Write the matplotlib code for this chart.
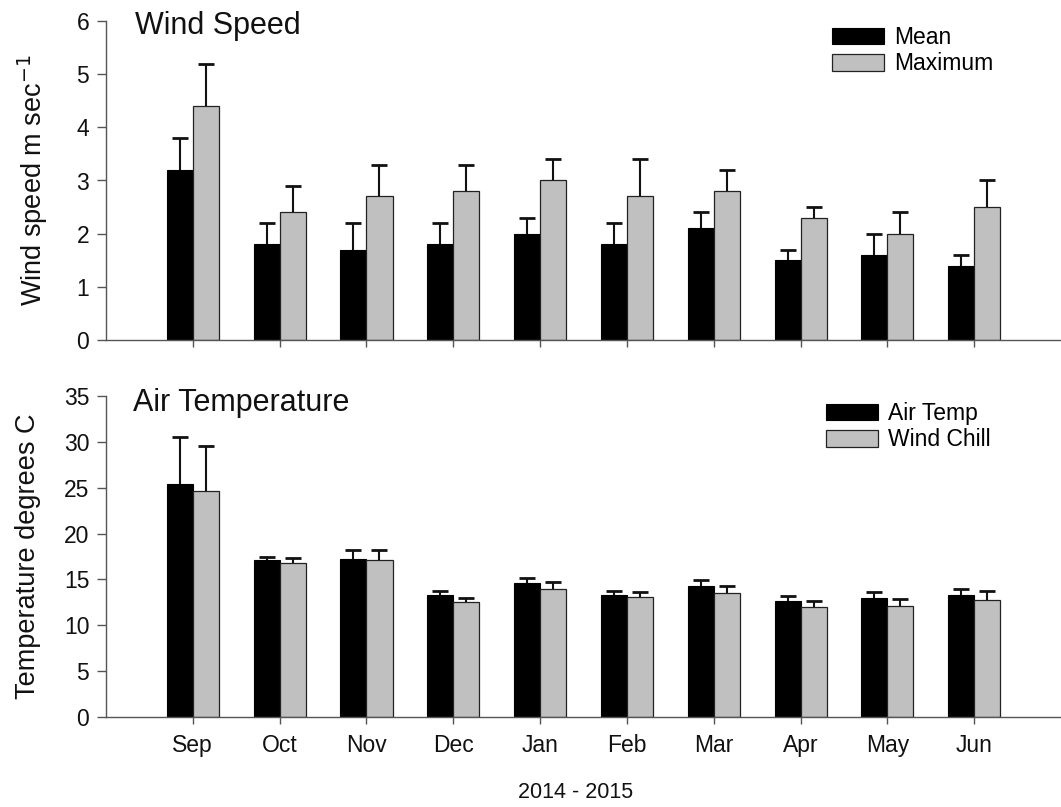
import matplotlib
matplotlib.use("Agg")
import matplotlib.pyplot as plt
import numpy as np

plt.rcParams['font.family'] = ['Liberation Sans', 'DejaVu Sans']

months = ["Sep", "Oct", "Nov", "Dec", "Jan", "Feb", "Mar", "Apr", "May", "Jun"]

wind_mean = [3.2, 1.8, 1.7, 1.8, 2.0, 1.8, 2.1, 1.5, 1.6, 1.4]
wind_mean_err = [0.6, 0.4, 0.5, 0.4, 0.3, 0.4, 0.3, 0.2, 0.4, 0.2]
wind_max = [4.4, 2.4, 2.7, 2.8, 3.0, 2.7, 2.8, 2.3, 2.0, 2.5]
wind_max_err = [0.8, 0.5, 0.6, 0.5, 0.4, 0.7, 0.4, 0.2, 0.4, 0.5]

air_temp = [25.4, 17.1, 17.2, 13.3, 14.6, 13.3, 14.3, 12.7, 12.95, 13.3]
air_temp_err = [5.1, 0.4, 1.0, 0.4, 0.6, 0.4, 0.6, 0.5, 0.65, 0.7]
wind_chill = [24.6, 16.8, 17.1, 12.5, 14.0, 13.1, 13.5, 12.0, 12.15, 12.8]
wind_chill_err = [5.0, 0.5, 1.1, 0.45, 0.7, 0.5, 0.8, 0.7, 0.75, 0.9]

W, H = 1061, 807
fig = plt.figure(figsize=(W / 100, H / 100), dpi=100)

def px_axes(left, top, right, bottom):
    return fig.add_axes([left / W, 1 - bottom / H, (right - left) / W, (bottom - top) / H])

ax1 = px_axes(106, 21, 1061, 340)
ax2 = px_axes(106, 396, 1061, 717)

x = np.arange(len(months))
bw = 0.3
spine_col = "#555555"
gray = "#c0c0c0"
txt = "#111111"

def upper_err(ax, xs, vals, errs):
    vals = np.asarray(vals, float)
    tops = vals + np.asarray(errs, float)
    ax.vlines(xs, vals, tops, color=txt, linewidth=1.5, zorder=3)
    ax.plot(xs, tops, linestyle='none', marker='_', markersize=11.5,
            markeredgewidth=2.0, color=txt, zorder=3)

def draw(ax, a, ae, b, be):
    ax.bar(x - bw, a, bw, align='edge', color='black', edgecolor='black', linewidth=0.8, zorder=2)
    ax.bar(x, b, bw, align='edge', color=gray, edgecolor='#222222', linewidth=0.9, zorder=2)
    upper_err(ax, x - bw / 2, a, ae)
    upper_err(ax, x + bw / 2, b, be)
    ax.set_xlim(-1, 10)
    ax.set_xticks(x)
    for s in ['top', 'right']:
        ax.spines[s].set_visible(False)
    for s in ['left', 'bottom']:
        ax.spines[s].set_color(spine_col)
        ax.spines[s].set_linewidth(1.0)
    ax.tick_params(axis='y', direction='out', length=6.5, width=1.0, color=spine_col,
                   labelsize=16.5, pad=5.5, labelcolor=txt)
    ax.tick_params(axis='x', direction='out', length=5, width=1.0, color=spine_col,
                   labelsize=16.5, pad=7, labelcolor=txt)

draw(ax1, wind_mean, wind_mean_err, wind_max, wind_max_err)
draw(ax2, air_temp, air_temp_err, wind_chill, wind_chill_err)

ax1.set_ylim(0, 6)
ax1.set_yticks(range(0, 7))
ax1.set_xticklabels([])
ax2.set_ylim(0, 35)
ax2.set_yticks(range(0, 36, 5))
ax2.set_xticklabels(months)

ax1.text(0.0304, 0.96, "Wind Speed", transform=ax1.transAxes, fontsize=22,
         ha='left', va='baseline', color=txt)
ax2.text(0.028, 0.954, "Air Temperature", transform=ax2.transAxes, fontsize=22,
         ha='left', va='baseline', color=txt)

ax1.set_ylabel("Wind speed m sec$^{-1}$", fontsize=19.5, color=txt)
ax1.yaxis.set_label_coords((50 - 106) / 955, 0.5)
ax2.set_ylabel("Temperature degrees C", fontsize=19.5, color=txt)
ax2.yaxis.set_label_coords((41 - 106) / 955, 0.5)

ax2.set_xlabel("2014 - 2015", fontsize=15.5, color=txt)
ax2.xaxis.set_label_coords((576 - 106) / 955, (717 - 782) / 321)

lkw = dict(frameon=False, fontsize=16.5, handlelength=2.25, handleheight=0.74,
           handletextpad=0.45, labelspacing=0.15, borderpad=0, borderaxespad=0,
           loc='upper left', bbox_transform=fig.transFigure)
ax1.legend([ax1.patches[0], ax1.patches[len(months)]], ["Mean", "Maximum"],
           bbox_to_anchor=(832 / W, 1 - 26 / H), **lkw)
ax2.legend([ax2.patches[0], ax2.patches[len(months)]], ["Air Temp", "Wind Chill"],
           bbox_to_anchor=(826 / W, 1 - 402 / H), **lkw)

fig.savefig("out.png", dpi=100, facecolor='white')
